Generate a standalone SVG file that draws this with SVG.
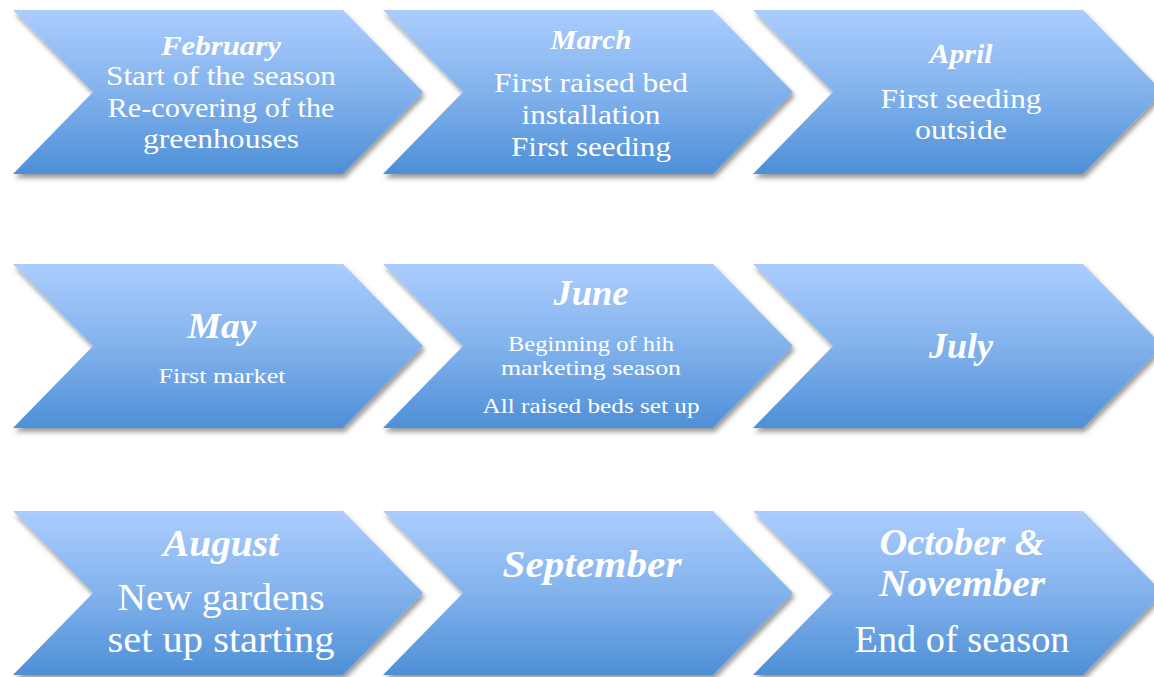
<svg xmlns="http://www.w3.org/2000/svg" width="1154" height="677" viewBox="0 0 1154 677">
<style>
text { font-family: "Liberation Serif", "Times New Roman", serif; fill: #ffffff; text-anchor: middle; }
.t { font-weight: bold; font-style: italic; }
.r1 { font-size: 27.5px; }
.r2t { font-size: 36px; }
.r2b { font-size: 22px; }
.r3 { font-size: 37px; }
.chev { fill: url(#grad); filter: url(#shadow); }
</style>
<defs>
<linearGradient id="grad" x1="0" y1="0" x2="0" y2="1">
<stop offset="0" stop-color="#abcdfe"/>
<stop offset="0.5" stop-color="#82b2ec"/>
<stop offset="1" stop-color="#4e8fd7"/>
</linearGradient>
<filter id="shadow" x="-5%" y="-10%" width="115%" height="125%">
<feDropShadow dx="2" dy="4" stdDeviation="2.5" flood-color="#000000" flood-opacity="0.4"/>
</filter>
<polygon id="shape" points="0,0 330,0 410,82 330,164 0,164 80,82"/>
</defs>

<g id="feb">
<use href="#shape" class="chev" transform="translate(13,10)"/>
<text class="t r1" x="221" y="55" textLength="120" lengthAdjust="spacingAndGlyphs">February</text>
<text class="r1" x="221" y="85" textLength="230" lengthAdjust="spacingAndGlyphs">Start of the season</text>
<text class="r1" x="221" y="117" textLength="227" lengthAdjust="spacingAndGlyphs">Re-covering of the</text>
<text class="r1" x="221" y="148" textLength="156" lengthAdjust="spacingAndGlyphs">greenhouses</text>
</g>
<g id="mar">
<use href="#shape" class="chev" transform="translate(383,10)"/>
<text class="t r1" x="591" y="49" textLength="81" lengthAdjust="spacingAndGlyphs">March</text>
<text class="r1" x="591" y="92" textLength="194" lengthAdjust="spacingAndGlyphs">First raised bed</text>
<text class="r1" x="591" y="124" textLength="139" lengthAdjust="spacingAndGlyphs">installation</text>
<text class="r1" x="591" y="156" textLength="160" lengthAdjust="spacingAndGlyphs">First seeding</text>
</g>
<g id="apr">
<use href="#shape" class="chev" transform="translate(753,10)"/>
<text class="t r1" x="961" y="63" textLength="63" lengthAdjust="spacingAndGlyphs">April</text>
<text class="r1" x="961" y="108" textLength="161" lengthAdjust="spacingAndGlyphs">First seeding</text>
<text class="r1" x="961" y="139" textLength="92" lengthAdjust="spacingAndGlyphs">outside</text>
</g>

<g id="may">
<use href="#shape" class="chev" transform="translate(13,264)"/>
<text class="t r2t" x="222" y="338" textLength="69" lengthAdjust="spacingAndGlyphs">May</text>
<text class="r2b" x="222" y="383" textLength="127" lengthAdjust="spacingAndGlyphs">First market</text>
</g>
<g id="jun">
<use href="#shape" class="chev" transform="translate(383,264)"/>
<text class="t r2t" x="591" y="305" textLength="75" lengthAdjust="spacingAndGlyphs">June</text>
<text class="r2b" x="591" y="351" textLength="166" lengthAdjust="spacingAndGlyphs">Beginning of hih</text>
<text class="r2b" x="591" y="375" textLength="180" lengthAdjust="spacingAndGlyphs">marketing season</text>
<text class="r2b" x="591" y="413" textLength="217" lengthAdjust="spacingAndGlyphs">All raised beds set up</text>
</g>
<g id="jul">
<use href="#shape" class="chev" transform="translate(753,264)"/>
<text class="t r2t" x="961" y="358" textLength="64" lengthAdjust="spacingAndGlyphs">July</text>
</g>

<g id="aug">
<use href="#shape" class="chev" transform="translate(13,511)"/>
<text class="t r3" x="221" y="556" textLength="116" lengthAdjust="spacingAndGlyphs">August</text>
<text class="r3" x="221" y="610" textLength="207" lengthAdjust="spacingAndGlyphs">New gardens</text>
<text class="r3" x="221" y="652" textLength="227" lengthAdjust="spacingAndGlyphs">set up starting</text>
</g>
<g id="sep">
<use href="#shape" class="chev" transform="translate(383,511)"/>
<text class="t r3" x="592" y="577" textLength="179" lengthAdjust="spacingAndGlyphs">September</text>
</g>
<g id="octnov">
<use href="#shape" class="chev" transform="translate(753,511)"/>
<text class="t r3" x="962" y="555" textLength="165" lengthAdjust="spacingAndGlyphs">October &amp;</text>
<text class="t r3" x="962" y="596" textLength="166" lengthAdjust="spacingAndGlyphs">November</text>
<text class="r3" x="962" y="652" textLength="215" lengthAdjust="spacingAndGlyphs">End of season</text>
</g>
<g id="connectors"/>
</svg>
